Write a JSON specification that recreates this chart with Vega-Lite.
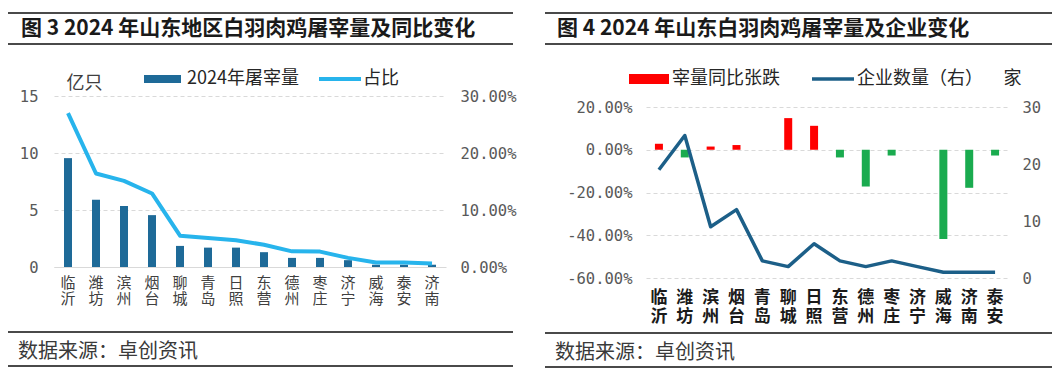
{
  "$schema": "https://vega.github.io/schema/vega-lite/v6.json",
  "background": "white",
  "padding": {"left": 7, "top": 12, "right": 0, "bottom": 0},
  "config": {
    "view": {"stroke": null},
    "font": "Noto Sans CJK SC",
    "legend": {"padding": 0, "offset": 0, "labelFont": "Noto Sans CJK SC", "labelFontSize": 18, "labelColor": "#262626", "title": null},
    "axis": {"labelFont": "DejaVu Sans Mono", "labelFontSize": 15.5, "labelColor": "#595959"}
  },
  "spacing": 28,
  "resolve": {"scale": {"fill": "independent", "stroke": "independent"}},
  "hconcat": [
    {
      "columns": 1, "align": "none", "spacing": 25,
      "resolve": {"scale": {"fill": "independent", "stroke": "independent"}},
      "concat": [
        {
          "columns": 1, "align": "none", "spacing": 21,
          "resolve": {"scale": {"fill": "independent", "stroke": "independent"}},
          "concat": [
            {
              "width": 505, "height": 31,
              "data": {"values": [{"edge": 0}, {"edge": 1}]},
              "layer": [
                {"mark": {"type": "rule", "color": "#4a4a4a", "strokeWidth": 2},
                 "encoding": {"y": {"field": "edge", "type": "quantitative", "scale": {"domain": [0, 1], "nice": false, "zero": false}, "axis": null}}},
                {"data": {"values": [{"title": "图 3 2024 年山东地区白羽肉鸡屠宰量及同比变化"}]},
                 "mark": {"type": "text", "align": "left", "baseline": "middle", "dx": 13, "fontSize": 21, "fontWeight": "bold", "color": "#1a1a1a"},
                 "encoding": {"text": {"field": "title"},
                   "x": {"datum": 0, "type": "quantitative", "scale": {"domain": [0, 1]}, "axis": null},
                   "y": {"datum": 0.5, "type": "quantitative", "axis": null}}}
              ]
            },
            {
              "spacing": 10,
              "resolve": {"scale": {"fill": "independent", "stroke": "independent"}},
              "hconcat": [
                {"width": 1, "height": 1, "data": {"values": []}, "mark": "point", "encoding": {}},
                {
                  "width": 392, "height": 171,
                  "data": {"values": [
                    {"city": "临沂", "volume": 9.55, "share": 0.270},
                    {"city": "潍坊", "volume": 5.9, "share": 0.164},
                    {"city": "滨州", "volume": 5.35, "share": 0.151},
                    {"city": "烟台", "volume": 4.55, "share": 0.129},
                    {"city": "聊城", "volume": 1.85, "share": 0.055},
                    {"city": "青岛", "volume": 1.7, "share": 0.051},
                    {"city": "日照", "volume": 1.7, "share": 0.047},
                    {"city": "东营", "volume": 1.3, "share": 0.039},
                    {"city": "德州", "volume": 0.8, "share": 0.0275},
                    {"city": "枣庄", "volume": 0.8, "share": 0.027},
                    {"city": "济宁", "volume": 0.6, "share": 0.016},
                    {"city": "威海", "volume": 0.2, "share": 0.008},
                    {"city": "泰安", "volume": 0.2, "share": 0.008},
                    {"city": "济南", "volume": 0.2, "share": 0.006}
                  ]},
                  "encoding": {
                    "x": {"field": "city", "type": "nominal", "sort": null,
                      "scale": {"paddingInner": 0, "paddingOuter": 0},
                      "axis": {"title": null, "labelAngle": 0, "labelOverlap": false,
                        "labelExpr": "[slice(datum.label, 0, 1), slice(datum.label, 1)]",
                        "labelFont": "Noto Sans CJK SC", "labelFontSize": 15, "labelLineHeight": 16,
                        "labelColor": "#404040", "labelPadding": 8, "labelBaseline": "top",
                        "ticks": false, "domain": true, "domainColor": "#d9d9d9", "domainWidth": 1}}
                  },
                  "layer": [
                    {"mark": {"type": "bar", "width": 8},
                     "encoding": {
                       "y": {"field": "volume", "type": "quantitative",
                         "scale": {"domain": [0, 15], "nice": false},
                         "axis": {"orient": "left", "values": [0, 5, 10, 15], "grid": true, "gridDash": [4, 3], "gridColor": "#d9d9d9",
                           "domain": false, "ticks": false, "labelPadding": 16,
                           "title": "亿只", "titleAngle": 0, "titleAlign": "left", "titleBaseline": "middle",
                           "titleX": 12, "titleY": -12.5, "titleFont": "Noto Sans CJK SC", "titleFontSize": 18,
                           "titleFontWeight": "normal", "titleColor": "#404040"}},
                       "fill": {"datum": "2024年屠宰量", "type": "nominal", "scale": {"range": ["#1e6a98"]},
                         "legend": {"orient": "none", "legendX": 99, "legendY": -26.5,
                           "symbolType": "M-2,-0.43H2V0.43H-2Z", "symbolSize": 342, "symbolStrokeWidth": 0, "labelOffset": 15}}
                     }},
                    {"mark": {"type": "line", "strokeWidth": 4, "strokeJoin": "round"},
                     "encoding": {
                       "y": {"field": "share", "type": "quantitative",
                         "scale": {"domain": [0, 0.3], "nice": false},
                         "axis": {"orient": "right", "values": [0, 0.1, 0.2, 0.3], "format": ".2%", "grid": false,
                           "domain": false, "ticks": false, "labelPadding": 14, "title": null}},
                       "stroke": {"datum": "占比", "type": "nominal", "scale": {"range": ["#27b4ec"]},
                         "legend": {"orient": "none", "legendX": 273.5, "legendY": -29.5,
                           "symbolType": "M-2,0H2", "symbolSize": 441, "symbolStrokeWidth": 4, "labelOffset": 10.5}}
                     }}
                  ],
                  "resolve": {"scale": {"y": "independent"}}
                }
              ]
            }
          ]
        },
        {
          "width": 505, "height": 34,
          "data": {"values": [{"edge": 0}, {"edge": 1}]},
          "layer": [
            {"mark": {"type": "rule", "color": "#4a4a4a", "strokeWidth": 2},
             "encoding": {"y": {"field": "edge", "type": "quantitative", "scale": {"domain": [0, 1], "nice": false, "zero": false}, "axis": null}}},
            {"data": {"values": [{"note": "数据来源：卓创资讯"}]},
             "mark": {"type": "text", "align": "left", "baseline": "middle", "dx": 10, "fontSize": 20, "color": "#3a3a3a"},
             "encoding": {"text": {"field": "note"},
               "x": {"datum": 0, "type": "quantitative", "scale": {"domain": [0, 1]}, "axis": null},
               "y": {"datum": 0.41, "type": "quantitative", "axis": null}}}
          ]
        }
      ]
    },
    {
      "columns": 1, "align": "none", "spacing": 8,
      "resolve": {"scale": {"fill": "independent", "stroke": "independent"}},
      "concat": [
        {
          "columns": 1, "align": "none", "spacing": 21,
          "resolve": {"scale": {"fill": "independent", "stroke": "independent"}},
          "concat": [
            {
              "width": 507, "height": 31,
              "data": {"values": [{"edge": 0}, {"edge": 1}]},
              "layer": [
                {"mark": {"type": "rule", "color": "#4a4a4a", "strokeWidth": 2},
                 "encoding": {"y": {"field": "edge", "type": "quantitative", "scale": {"domain": [0, 1], "nice": false, "zero": false}, "axis": null}}},
                {"data": {"values": [{"title": "图 4 2024 年山东白羽肉鸡屠宰量及企业变化"}]},
                 "mark": {"type": "text", "align": "left", "baseline": "middle", "dx": 12, "fontSize": 21, "fontWeight": "bold", "color": "#1a1a1a"},
                 "encoding": {"text": {"field": "title"},
                   "x": {"datum": 0, "type": "quantitative", "scale": {"domain": [0, 1]}, "axis": null},
                   "y": {"datum": 0.5, "type": "quantitative", "axis": null}}}
              ]
            },
            {
              "spacing": 20,
              "resolve": {"scale": {"fill": "independent", "stroke": "independent"}},
              "hconcat": [
                {"width": 1, "height": 1, "data": {"values": []}, "mark": "point", "encoding": {}},
                {
                  "width": 362, "height": 171,
                  "data": {"values": [
                    {"city": "临沂", "yoy": 0.028, "firms": 19},
                    {"city": "潍坊", "yoy": -0.036, "firms": 25},
                    {"city": "滨州", "yoy": 0.015, "firms": 9},
                    {"city": "烟台", "yoy": 0.022, "firms": 12},
                    {"city": "青岛", "yoy": 0, "firms": 3},
                    {"city": "聊城", "yoy": 0.148, "firms": 2},
                    {"city": "日照", "yoy": 0.112, "firms": 6},
                    {"city": "东营", "yoy": -0.036, "firms": 3},
                    {"city": "德州", "yoy": -0.172, "firms": 2},
                    {"city": "枣庄", "yoy": -0.027, "firms": 3},
                    {"city": "济宁", "yoy": 0, "firms": 2},
                    {"city": "威海", "yoy": -0.418, "firms": 1},
                    {"city": "济南", "yoy": -0.178, "firms": 1},
                    {"city": "泰安", "yoy": -0.027, "firms": 1}
                  ]},
                  "encoding": {
                    "x": {"field": "city", "type": "nominal", "sort": null,
                      "scale": {"paddingInner": 0, "paddingOuter": 0},
                      "axis": {"title": null, "labelAngle": 0, "labelOverlap": false,
                        "labelExpr": "[slice(datum.label, 0, 1), slice(datum.label, 1)]",
                        "labelFont": "Noto Sans CJK SC", "labelFontSize": 17, "labelLineHeight": 19, "labelFontWeight": "bold",
                        "labelColor": "#1a1a1a", "labelPadding": 11, "labelBaseline": "top",
                        "ticks": false, "domain": false}}
                  },
                  "layer": [
                    {
                      "layer": [
                        {"mark": {"type": "rule", "color": "#d9d9d9", "strokeWidth": 1},
                         "encoding": {"y": {"datum": 0, "type": "quantitative"}}},
                        {"transform": [{"filter": "datum.yoy >= 0"}],
                         "mark": {"type": "bar", "width": 8},
                         "encoding": {
                           "y": {"field": "yoy", "type": "quantitative",
                             "scale": {"domain": [-0.6, 0.2], "nice": false},
                             "axis": {"orient": "left", "values": [-0.6, -0.4, -0.2, 0, 0.2], "format": ".2%", "grid": true,
                               "gridDash": [4, 3], "gridColor": "#d9d9d9", "domain": false, "ticks": false, "labelPadding": 14,
                               "labelExpr": "replace(datum.label, '\u2212', '-')", "title": null}},
                           "fill": {"datum": "宰量同比张跌", "type": "nominal", "scale": {"range": ["#ff0000"]},
                             "legend": {"orient": "none", "legendX": -7, "legendY": -38,
                               "symbolType": "M-2,-0.5H2V0.5H-2Z", "symbolSize": 400, "symbolStrokeWidth": 0, "labelOffset": 13}}
                         }},
                        {"transform": [{"filter": "datum.yoy < 0"}],
                         "mark": {"type": "bar", "width": 8, "fill": "#1aab4f"},
                         "encoding": {"y": {"field": "yoy", "type": "quantitative"}}}
                      ]
                    },
                    {"mark": {"type": "line", "strokeWidth": 3.5, "strokeJoin": "round"},
                     "encoding": {
                       "y": {"field": "firms", "type": "quantitative",
                         "scale": {"domain": [0, 30], "nice": false},
                         "axis": {"orient": "right", "values": [0, 10, 20, 30], "grid": false, "domain": false, "ticks": false,
                           "labelPadding": 14, "title": "家", "titleAngle": 0, "titleAlign": "center", "titleBaseline": "middle",
                           "titleX": 4, "titleY": -29, "titleFont": "Noto Sans CJK SC", "titleFontSize": 18,
                           "titleFontWeight": "normal", "titleColor": "#262626"}},
                       "stroke": {"datum": "企业数量（右）", "type": "nominal", "scale": {"range": ["#1c5f88"]},
                         "legend": {"orient": "none", "legendX": 174.5, "legendY": -40.5,
                           "symbolType": "M-2,0H2", "symbolSize": 441, "symbolStrokeWidth": 3.5, "labelOffset": 11.5}}
                     }}
                  ],
                  "resolve": {"scale": {"y": "independent"}}
                }
              ]
            }
          ]
        },
        {
          "width": 507, "height": 34,
          "data": {"values": [{"edge": 0}, {"edge": 1}]},
          "layer": [
            {"mark": {"type": "rule", "color": "#4a4a4a", "strokeWidth": 2},
             "encoding": {"y": {"field": "edge", "type": "quantitative", "scale": {"domain": [0, 1], "nice": false, "zero": false}, "axis": null}}},
            {"data": {"values": [{"note": "数据来源：卓创资讯"}]},
             "mark": {"type": "text", "align": "left", "baseline": "middle", "dx": 10, "fontSize": 20, "color": "#3a3a3a"},
             "encoding": {"text": {"field": "note"},
               "x": {"datum": 0, "type": "quantitative", "scale": {"domain": [0, 1]}, "axis": null},
               "y": {"datum": 0.41, "type": "quantitative", "axis": null}}}
          ]
        }
      ]
    }
  ]
}
